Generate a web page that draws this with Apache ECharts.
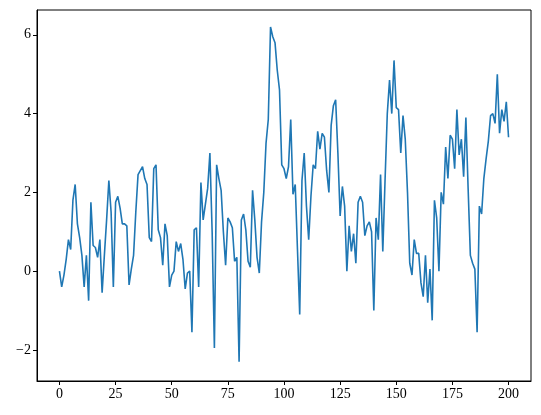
<!DOCTYPE html>
<html>
<head>
<meta charset="utf-8">
<script src="https://cdn.jsdelivr.net/npm/echarts@6/dist/echarts.min.js"></script>
<style>html,body{margin:0;padding:0;background:#fff}#c{width:541px;height:415px}</style>
</head>
<body>
<div id="c"></div>
<script>
const values = [
 0.0,-0.4,-0.1,0.3,0.8,0.55,1.8,2.2,1.2,0.85,
 0.4,-0.4,0.4,-0.75,1.75,0.65,0.6,0.35,0.8,-0.55,
 0.4,1.3,2.3,1.5,-0.4,1.75,1.9,1.6,1.2,1.2,
 1.15,-0.35,0.05,0.4,1.5,2.45,2.55,2.65,2.35,2.2,
 0.85,0.75,2.6,2.7,1.05,0.85,0.15,1.2,0.9,-0.4,
 -0.1,0.0,0.75,0.5,0.7,0.3,-0.45,-0.05,0.0,-1.55,
 1.05,1.1,-0.4,2.25,1.3,1.7,2.1,3.0,1.0,-1.95,
 2.7,2.35,2.05,1.0,0.15,1.35,1.25,1.1,0.25,0.35,
 -2.3,1.3,1.45,1.05,0.25,0.1,2.05,1.3,0.35,-0.05,
 1.25,2.0,3.25,3.85,6.2,5.95,5.8,5.1,4.6,2.7,
 2.6,2.35,2.65,3.85,1.95,2.2,0.55,-1.1,2.3,3.0,
 1.65,0.8,1.9,2.7,2.6,3.55,3.1,3.5,3.4,2.55,
 2.0,3.7,4.2,4.35,3.0,1.4,2.15,1.65,0.0,1.15,
 0.5,0.95,0.2,1.75,1.9,1.75,0.9,1.15,1.25,1.0,
 -1.0,1.35,0.8,2.45,0.5,2.3,4.0,4.85,4.0,5.35,
 4.15,4.1,3.0,3.95,3.35,2.0,0.2,-0.1,0.8,0.45,
 0.45,-0.3,-0.65,0.4,-0.8,0.05,-1.25,1.8,1.35,0.0,
 2.0,1.7,3.15,2.35,3.45,3.35,2.6,4.1,2.95,3.35,
 2.4,3.9,2.1,0.4,0.2,0.05,-1.55,1.65,1.45,2.35,
 2.85,3.3,3.95,4.0,3.75,5.0,3.5,4.1,3.8,4.3,
 3.4
];
const xTicks = [0,25,50,75,100,125,150,175,200];
const yTicks = [-2,0,2,4,6];

const data = values.map((v,i)=>[i,v]);
const font = "'Liberation Serif', 'DejaVu Serif', serif";
const chart = echarts.init(document.getElementById('c'), null, {renderer:'canvas'});
chart.setOption({
  animation:false,
  grid:{left:37,right:10,top:10,bottom:34,show:true,borderColor:'#000',borderWidth:1,backgroundColor:'transparent',containLabel:false},
  xAxis:{type:'value',min:-10,max:210,position:'bottom',
    axisLine:{show:true,onZero:false,lineStyle:{color:'#000',width:1}},splitLine:{show:false},
    axisTick:{show:true,inside:false,length:4,lineStyle:{color:'#000'},customValues:xTicks},
    axisLabel:{customValues:xTicks,color:'#000',fontFamily:font,fontSize:14,margin:6}},
  yAxis:{type:'value',min:-2.79,max:6.63,position:'left',
    axisLine:{show:true,onZero:false,lineStyle:{color:'#000',width:1}},splitLine:{show:false},
    axisTick:{show:true,inside:false,length:4,lineStyle:{color:'#000'},customValues:yTicks},
    axisLabel:{customValues:yTicks,color:'#000',fontFamily:font,fontSize:14,margin:6,
      formatter:v=>v<0?'\u2212'+Math.abs(v):String(v)}},
  series:[{type:'line',data:data,showSymbol:false,symbol:'none',lineStyle:{color:'#1f77b4',width:1.6},itemStyle:{color:'#1f77b4'}}]
});
</script>
</body>
</html>
